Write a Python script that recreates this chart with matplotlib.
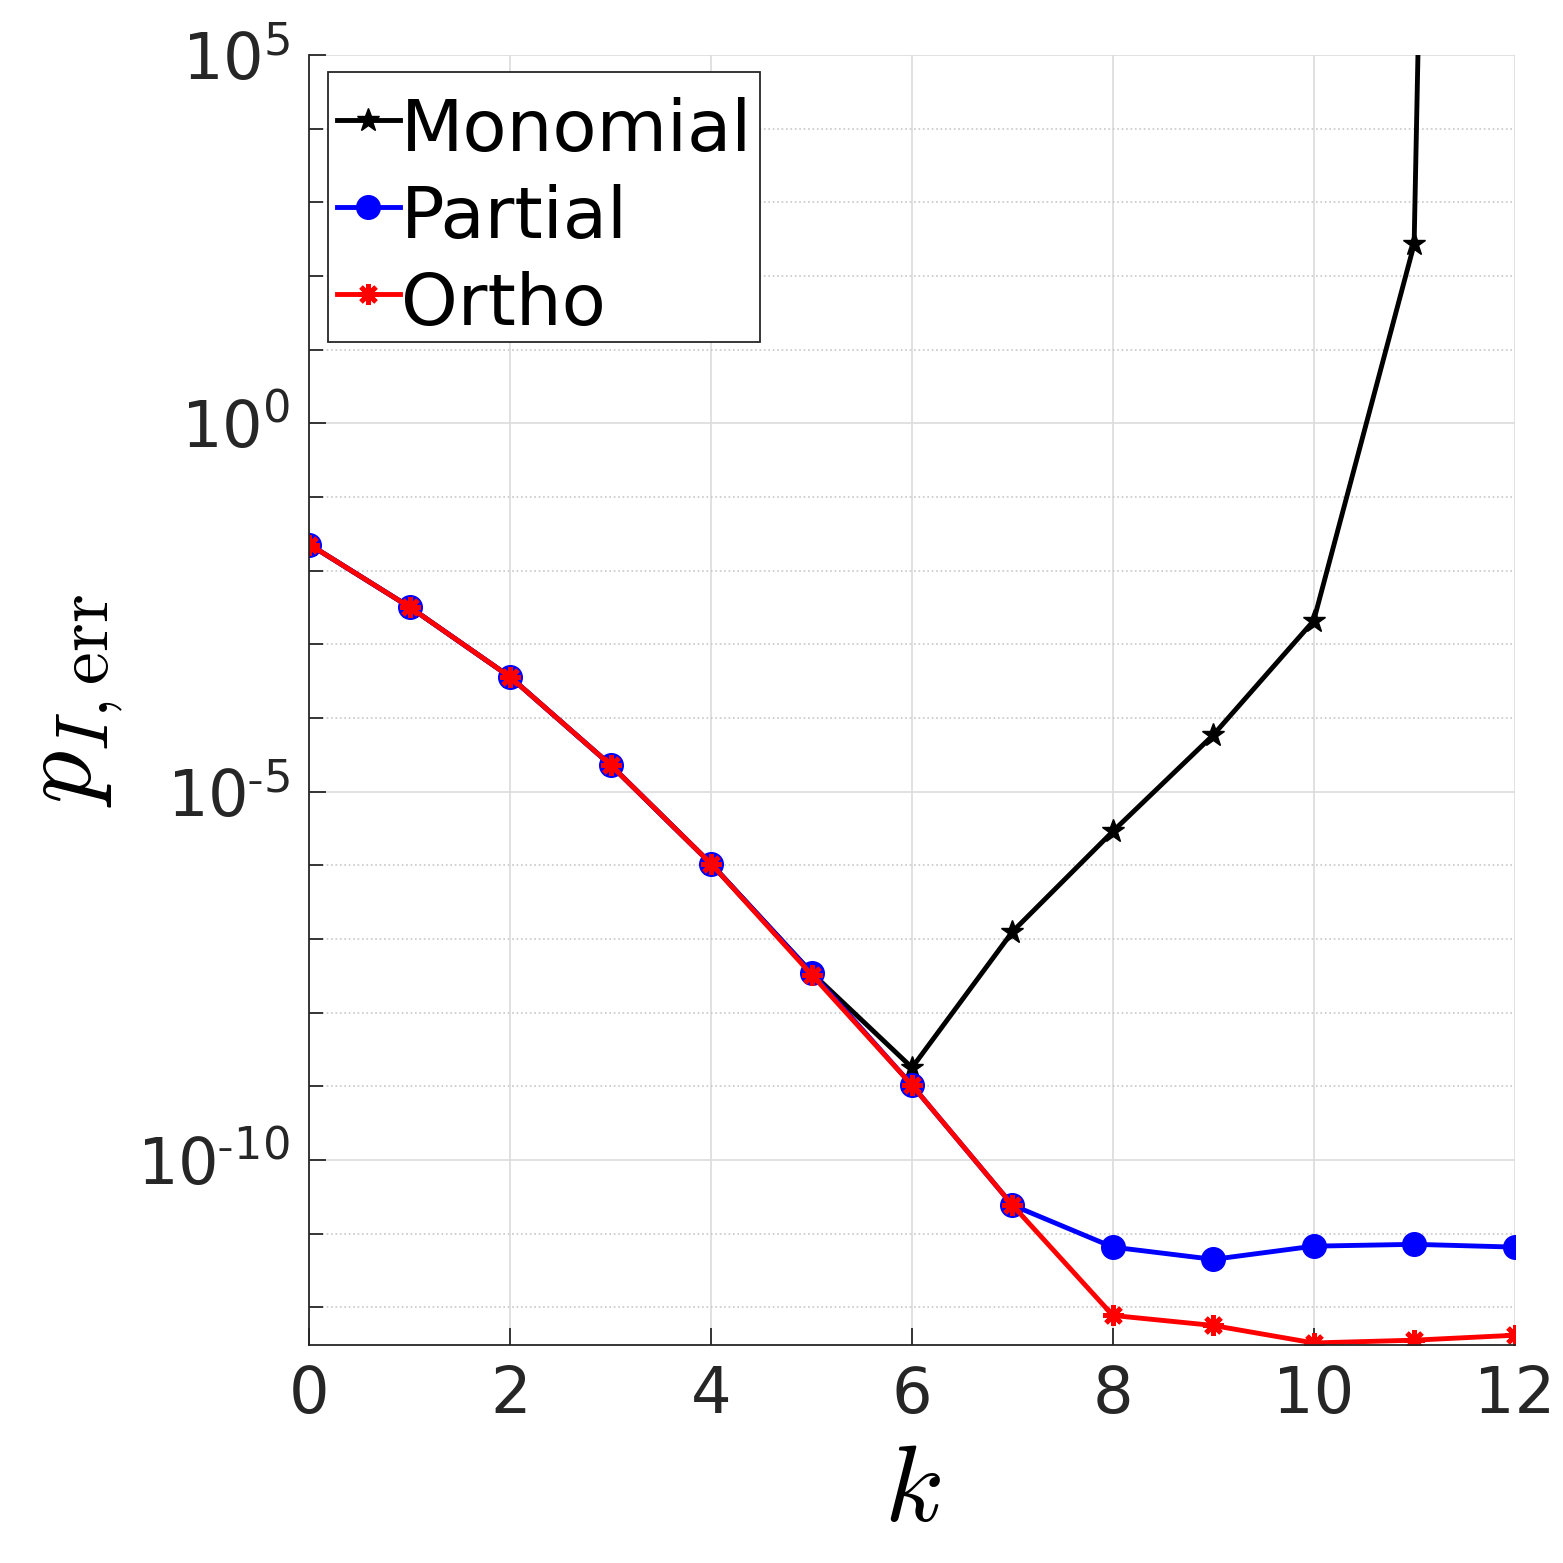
import numpy as np
import matplotlib.pyplot as plt
from matplotlib.patches import Rectangle
from matplotlib.ticker import LogLocator, NullFormatter

plt.rcParams['mathtext.fontset'] = 'cm'
plt.rcParams['font.family'] = ['DejaVu Sans']

# data
k = np.arange(13)
monomial = [2.27e-2, 3.2e-3, 3.6e-4, 2.3e-5, 1.05e-6, 3.5e-8, 1.8e-9,
            1.26e-7, 2.9e-6, 5.9e-5, 2.1e-3, 2.7e2, 1e70]
partial = [2.27e-2, 3.2e-3, 3.6e-4, 2.3e-5, 1.05e-6, 3.5e-8, 1.04e-9,
           2.45e-11, 6.6e-12, 4.5e-12, 6.8e-12, 7.2e-12, 6.6e-12]
ortho = [2.27e-2, 3.2e-3, 3.6e-4, 2.3e-5, 1.05e-6, 3.3e-8, 1.04e-9,
         2.45e-11, 7.8e-13, 5.7e-13, 3.3e-13, 3.6e-13, 4.2e-13]
labels = ['Monomial', 'Partial', 'Ortho']
yticks = [1e-10, 1e-5, 1e0, 1e5]
ytick_labels = [r'$\mathdefault{10^{\text{-}10}}$', r'$\mathdefault{10^{\text{-}5}}$',
                r'$\mathdefault{10^{0}}$', r'$\mathdefault{10^{5}}$']

fig = plt.figure(figsize=(15.63, 15.63), dpi=100)
ax = fig.add_axes([0.198, 0.1395, 0.771, 0.8253])

ax.semilogy(k, monomial, '-*', color='k', lw=3.5, ms=17, label=labels[0])
ax.semilogy(k, partial, '-o', color='b', lw=3.5, ms=17, label=labels[1])
ax.semilogy(k, ortho, '-', marker=(8, 2, 0), color='r', lw=3.5, ms=15,
            mew=3.5, label=labels[2])

ax.set_xlim(0, 12)
ax.set_ylim(3.1e-13, 1e5)
ax.set_xticks(np.arange(0, 13, 2))
ax.set_yticks(yticks)
ax.set_yticklabels(ytick_labels)
ax.yaxis.set_minor_locator(LogLocator(base=10, subs=[1.0], numticks=40))
ax.yaxis.set_minor_formatter(NullFormatter())

ax.grid(True, which='major', color='#dcdcdc', lw=1.2)
ax.grid(True, which='minor', axis='y', color='#c8c8c8', ls=':', lw=1.2)
ax.set_axisbelow(True)
for s in ['top', 'right']:
    ax.spines[s].set_visible(False)
for s in ['left', 'bottom']:
    ax.spines[s].set_linewidth(1.3)
    ax.spines[s].set_color('#262626')

ax.tick_params(which='both', direction='in', labelsize=46, colors='#262626',
               width=1.3, pad=14)
ax.tick_params(which='major', length=12)
ax.tick_params(which='minor', length=10)

ax.set_xlabel('$k$', fontsize=78, labelpad=8)
ax.set_ylabel(r'$p_{I,\mathrm{err}}$', fontsize=76, labelpad=8)

# legend box drawn separately so its padding matches the MATLAB look
box = Rectangle((0.2099, 0.7812), 0.2763, 0.1727, transform=fig.transFigure,
                facecolor='white', edgecolor='#262626', lw=1.3, zorder=4,
                clip_on=False)
ax.add_patch(box)
leg = ax.legend(loc='upper left', bbox_to_anchor=(0.2131, 0.9456),
                bbox_transform=fig.transFigure, fontsize=52,
                handlelength=0.86, handleheight=1.22, handletextpad=0.02,
                borderpad=0.06, labelspacing=0.14, borderaxespad=0,
                frameon=False)
leg.set_zorder(5)

plt.savefig('out.png', dpi=100)
